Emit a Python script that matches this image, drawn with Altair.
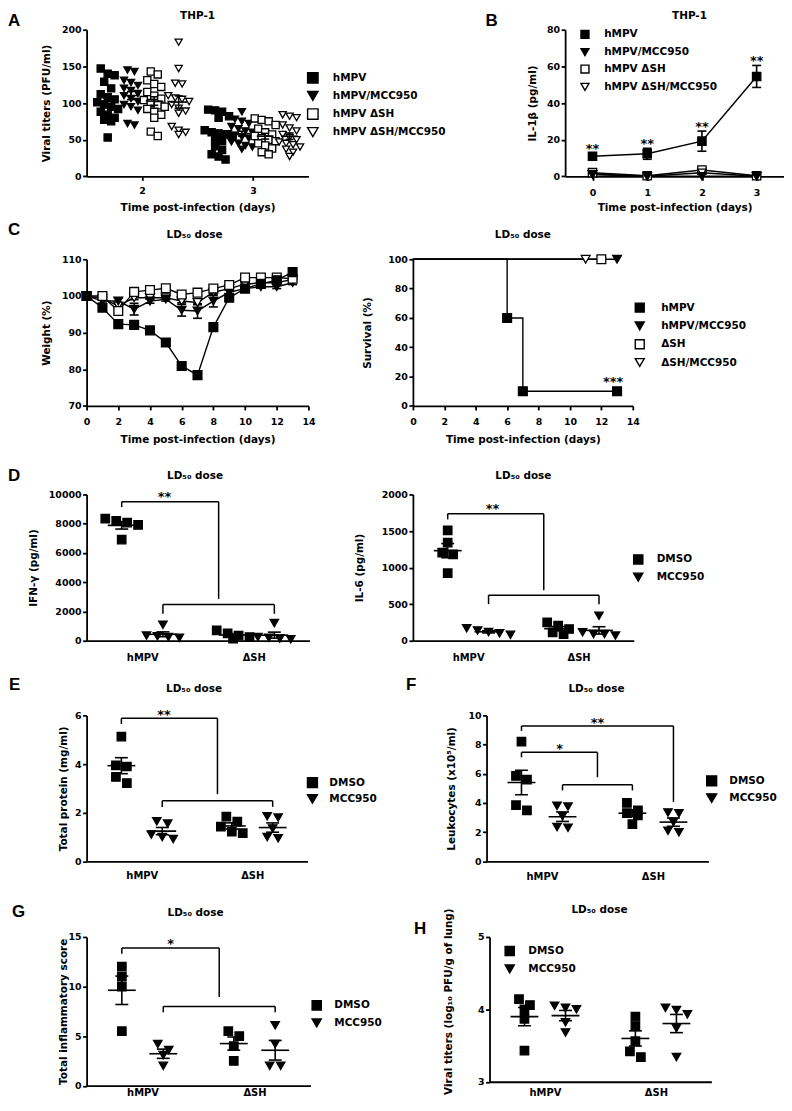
import altair as alt
import numpy as np
import pandas as pd

FONT = "DejaVu Sans"
LFONT = "Liberation Sans"

# ---------------- values ----------------
# A: THP-1 viral titers (PFU/ml), individual wells
a_series = ["hMPV", "hMPV/MCC950", "hMPV ΔSH", "hMPV ΔSH/MCC950"]
a_days = [2, 3]
a_d2_hmpv = [147, 140, 138, 129, 120, 112, 108, 105, 101, 98, 95, 92, 88, 84, 80, 77, 75, 53]
a_d2_hmpv_mcc = [145, 143, 131, 128, 124, 120, 117, 113, 110, 106, 102, 98, 95, 90, 72, 70]
a_d2_dsh = [143, 139, 131, 126, 122, 115, 110, 106, 104, 100, 97, 95, 92, 88, 84, 80, 61, 55]
a_d2_dsh_mcc = [183, 147, 127, 126, 110, 107, 105, 102, 98, 93, 89, 86, 68, 63, 60, 57]
a_d3_hmpv = [91, 90, 88, 82, 80, 63, 60, 58, 57, 55, 52, 48, 41, 36, 30, 27, 23]
a_d3_hmpv_mcc = [88, 78, 75, 72, 68, 65, 62, 60, 58, 56, 54, 52, 50, 47, 45, 42, 40, 37]
a_d3_dsh = [79, 77, 75, 70, 65, 60, 57, 55, 52, 50, 48, 45, 42, 38, 33, 30]
a_d3_dsh_mcc = [84, 82, 80, 70, 66, 62, 57, 53, 50, 47, 45, 43, 40, 37, 33, 27]

# B: IL-1β (pg/ml), mean ± SEM
b_days = [0, 1, 2, 3]
b_hmpv = [11.0, 12.3, 19.2, 54.5]
b_hmpv_sem = [1.5, 3.0, 5.5, 6.0]
b_hmpv_mcc = [1.0, 0.0, 0.0, 0.0]
b_hmpv_mcc_sem = [0.5, 0.0, 0.0, 0.0]
b_dsh = [2.0, 0.3, 3.5, 0.3]
b_dsh_sem = [0.8, 0.2, 1.2, 0.2]
b_dsh_mcc = [1.2, 0.0, 2.0, 0.0]
b_dsh_mcc_sem = [0.5, 0.0, 0.8, 0.0]
b_stars = ["**", "**", "**", "**"]

# C: body weight (%) and survival (%)
c_series = ["hMPV", "hMPV/MCC950", "ΔSH", "ΔSH/MCC950"]
c_days = list(range(14))
c_w_hmpv = [100, 96.8, 92.3, 92.1, 90.6, 87.3, 80.9, 78.4, 91.5, 99.5, 102.0, 103.3, 104.3, 106.5]
c_w_hmpv_sem = [0, 0.6, 0.5, 0.5, 0.8, 0.9, 0.6, 0.6, 0.8, 0.7, 0.5, 0.5, 0.5, 0.6]
c_w_hmpv_mcc = [100, 98.6, 98.6, 96.4, 98.6, 99.1, 96.1, 95.9, 98.6, 101.0, 102.0, 102.5, 102.5, 103.6]
c_w_hmpv_mcc_sem = [0, 0.6, 0.8, 1.6, 0.6, 0.5, 1.6, 2.0, 1.6, 0.6, 0.5, 0.4, 0.5, 0.5]
c_w_dsh = [100, 100.0, 95.9, 101.1, 101.6, 102.1, 100.4, 100.9, 102.0, 103.0, 105.0, 105.0, 105.0, 104.7]
c_w_dsh_sem = [0, 0.4, 0.5, 0.5, 0.4, 0.4, 0.6, 0.8, 0.5, 0.5, 0.4, 0.4, 0.4, 0.4]
c_w_dsh_mcc = [100, 99.3, 97.3, 99.5, 99.5, 99.5, 98.6, 98.2, 101.0, 102.0, 103.2, 103.6, 103.6, 104.5]
c_w_dsh_mcc_sem = [0, 0.4, 0.5, 0.5, 0.4, 0.4, 0.5, 0.6, 0.5, 0.4, 0.4, 0.4, 0.4, 0.4]

c_s_hmpv_days = [0, 6, 7, 13]
c_s_hmpv = [100, 60, 10, 10]
c_s_hmpv_mcc_days = [0, 13]
c_s_hmpv_mcc = [100, 100]
c_s_dsh_days = [0, 12]
c_s_dsh = [100, 100]
c_s_dsh_mcc_days = [0, 11]
c_s_dsh_mcc = [100, 100]

# D-H: individual mice, DMSO vs MCC950
dh_series = ["DMSO", "MCC950"]
dh_categories = ["hMPV", "ΔSH"]
d_ifn_hmpv_dmso = [8345, 8186, 8073, 7914, 6916]
d_ifn_hmpv_mcc = [1090, 350, 300, 250, 200]
d_ifn_dsh_dmso = [700, 500, 350, 250, 150]
d_ifn_dsh_mcc = [1200, 250, 200, 150, 100]

d_il6_hmpv_dmso = [1510, 1340, 1205, 1180, 923]
d_il6_hmpv_mcc = [170, 140, 120, 100, 80]
d_il6_dsh_dmso = [250, 205, 160, 115, 90]
d_il6_dsh_mcc = [340, 115, 90, 90, 70]

e_hmpv_dmso = [5.13, 3.95, 3.90, 3.47, 3.22]
e_hmpv_mcc = [1.65, 1.55, 1.10, 1.00, 0.92]
e_dsh_dmso = [1.84, 1.63, 1.43, 1.22, 1.16]
e_dsh_mcc = [1.85, 1.80, 1.35, 1.00, 0.95]

f_hmpv_dmso = [8.2, 5.85, 5.6, 3.85, 3.5]
f_hmpv_mcc = [3.8, 3.75, 3.1, 2.35, 2.3]
f_dsh_dmso = [4.0, 3.5, 3.3, 3.15, 2.55]
f_dsh_mcc = [3.35, 3.3, 2.7, 2.1, 2.0]

g_hmpv_dmso = [12.0, 11.0, 10.0, 5.5]
g_hmpv_mcc = [4.2, 3.6, 3.1, 2.0]
g_dsh_dmso = [5.5, 5.0, 4.0, 2.5]
g_dsh_mcc = [6.1, 4.2, 2.0, 2.0]

h_hmpv_dmso = [4.14, 4.06, 4.00, 3.87, 3.43]
h_hmpv_mcc = [4.05, 4.02, 4.00, 3.82, 3.68]
h_dsh_dmso = [3.90, 3.77, 3.56, 3.42, 3.34]
h_dsh_mcc = [4.02, 3.99, 3.93, 3.74, 3.34]

# significance brackets: (x1, y1, x2, y2) in data units, and star labels
d_ifn_brackets = [(-0.185, 9500, 0.685, 9500), (-0.185, 9500, -0.185, 9140), (0.685, 9500, 0.685, 2860),
                  (0.185, 2470, 1.185, 2470), (0.185, 2470, 0.185, 1840), (1.185, 2470, 1.185, 1840)]
d_ifn_stars = [(0.2, 10000, "**")]
d_il6_brackets = [(-0.185, 1736, 0.685, 1736), (-0.185, 1736, -0.185, 1659), (0.685, 1736, 0.685, 690),
                  (0.185, 623, 1.185, 623), (0.185, 623, 0.185, 500), (1.185, 623, 1.185, 500)]
d_il6_stars = [(0.22, 1840, "**")]
e_brackets = [(-0.185, 5.88, 0.685, 5.88), (-0.185, 5.88, -0.185, 5.65), (0.685, 5.88, 0.685, 2.76),
              (0.185, 2.49, 1.185, 2.49), (0.185, 2.49, 0.185, 2.24), (1.185, 2.49, 1.185, 2.24)]
e_stars = [(0.2, 6.12, "**")]
f_brackets = [(-0.185, 9.28, 1.185, 9.28), (-0.185, 9.28, -0.185, 8.94), (1.185, 9.28, 1.185, 4.07),
              (-0.185, 7.47, 0.5, 7.47), (-0.185, 7.47, -0.185, 7.13), (0.5, 7.47, 0.5, 5.77),
              (0.185, 5.25, 0.815, 5.25), (0.185, 5.25, 0.185, 4.86), (0.815, 5.25, 0.815, 4.86)]
f_stars = [(0.5, 9.7, "**"), (0.16, 7.9, "*")]
g_brackets = [(-0.185, 13.9, 0.685, 13.9), (-0.185, 13.9, -0.185, 13.3), (0.685, 13.9, 0.685, 8.95),
              (0.185, 8.0, 1.185, 8.0), (0.185, 8.0, 0.185, 7.4), (1.185, 8.0, 1.185, 7.4)]
g_stars = [(0.25, 14.6, "*")]

SHAPES4 = ["square", "triangle-down", "square", "triangle-down"]
FILLS4 = ["black", "black", "white", "white"]
SHAPES2 = ["square", "triangle-down"]
FILLS2 = ["black", "black"]
TIME_TITLE = "Time post-infection (days)"
LD50 = "LD₅₀ dose"


# ---------------- helpers ----------------
def spread(vals, px_y, px_x, bin_px, gap_px):
    vals = np.asarray(vals, dtype=float)
    order = np.argsort(-vals, kind="stable")
    bins = []
    for i in order:
        if bins and (vals[bins[-1][0]] - vals[i]) * px_y < bin_px:
            bins[-1].append(i)
        else:
            bins.append([i])
    off = np.zeros(len(vals))
    for b in bins:
        n = len(b)
        for k, i in enumerate(b):
            off[i] = (k - (n - 1) / 2.0) * gap_px / px_x
    return off


def text_layer(text, x, y, size=10.5, font=FONT, align="center", baseline="middle"):
    return alt.Chart(pd.DataFrame({"t": [text]})).mark_text(
        font=font, fontSize=size, fontWeight="bold", align=align, baseline=baseline, color="black"
    ).encode(x=alt.value(x), y=alt.value(y), text="t:N")


def letter_layer(letter, x, y):
    return text_layer(letter, x, y, size=17, font=LFONT, align="left", baseline="top")


def y_axis(values, title, title_x, title_y=None):
    kw = dict(values=values, tickCount=50, tickMinStep=0.001, title=title, titleX=title_x,
              titleAngle=270, titleAlign="center", titleBaseline="middle", tickSize=4,
              labelPadding=1.5, format="d", labelOverlap=False, labelFlush=False, labelBound=False)
    if title_y is not None:
        kw["titleY"] = title_y
    return alt.Axis(**kw)


def cat_axis(pad):
    return alt.Axis(values=[0, 1], tickCount=50, labelExpr="datum.value == 0 ? 'hMPV' : 'ΔSH'",
                    ticks=False, tickSize=0, labelPadding=pad, labelFontSize=10, title=None,
                    labelFlush=False, labelOverlap=False)


def time_axis(values, pad, title_y):
    return alt.Axis(values=values, tickCount=50, format="d", tickSize=4, labelPadding=pad,
                    title=TIME_TITLE, titleY=title_y, titleBaseline="middle", labelFlush=False,
                    labelOverlap=False)


def legend(x, y, sym, offset, rowpad):
    return alt.Legend(orient="none", legendX=x, legendY=y, title=None, symbolSize=sym,
                      symbolStrokeWidth=1.4, symbolOpacity=1,
                      labelFont=FONT, labelFontSize=10.5, labelFontWeight="bold", labelColor="black",
                      labelOffset=offset, rowPadding=rowpad, padding=0)


def X(field, scale):
    return alt.X(field, type="quantitative", scale=scale)


def Y(field, scale):
    return alt.Y(field, type="quantitative", scale=scale)


def marker_layer(df, xs, ys, xaxis, yaxis, series, shapes, fills, leg, msize):
    return alt.Chart(df).mark_point(filled=True, opacity=1, size=msize, strokeWidth=1.3).encode(
        x=alt.X("x:Q", scale=xs, axis=xaxis),
        y=alt.Y("y:Q", scale=ys, axis=yaxis),
        shape=alt.Shape("series:N", scale=alt.Scale(domain=series, range=shapes), legend=leg),
        fill=alt.Fill("series:N", scale=alt.Scale(domain=series, range=fills), legend=leg),
        stroke=alt.Stroke("series:N", scale=alt.Scale(domain=series, range=["black"] * len(series)),
                          legend=leg),
    )


def err_layers(df, xs, ys, cap_px, mean_px=None, mean_field="y"):
    layers = []
    if mean_px:
        layers.append(alt.Chart(df).mark_tick(orient="horizontal", size=mean_px, thickness=1.6,
                                              color="black", opacity=1).encode(
            x=X("x", xs), y=Y(mean_field, ys)))
    layers.append(alt.Chart(df).mark_rule(color="black", strokeWidth=1.6).encode(
        x=X("x", xs), y=Y("lo", ys), y2="hi:Q"))
    for f in ["lo", "hi"]:
        layers.append(alt.Chart(df).mark_tick(orient="horizontal", size=cap_px, thickness=1.6,
                                              color="black", opacity=1).encode(
            x=X("x", xs), y=Y(f, ys)))
    return layers


def bracket_layers(brackets, stars, xs, ys):
    bdf = pd.DataFrame(brackets, columns=["x1", "y1", "x2", "y2"])
    sdf = pd.DataFrame(stars, columns=["x", "y", "s"])
    rules = alt.Chart(bdf).mark_rule(color="black", strokeWidth=1.5).encode(
        x=X("x1", xs), x2="x2:Q", y=Y("y1", ys), y2="y2:Q")
    txt = alt.Chart(sdf).mark_text(font=FONT, fontSize=13, fontWeight="bold", dy=3, color="black").encode(
        x=X("x", xs), y=Y("y", ys), text="s:N")
    return [rules, txt]


def dot_panel(groups, series, shapes, fills, xdom, ydom, width, height, xaxis, yaxis, leg,
              msize, bin_px, gap_px, mean_px, cap_px, extra=()):
    px_y = height / (ydom[1] - ydom[0])
    px_x = width / (xdom[1] - xdom[0])
    pts, stats = [], []
    for xc, s, vals in groups:
        off = spread(vals, px_y, px_x, bin_px, gap_px)
        for v, o in zip(vals, off):
            pts.append({"x": xc + o, "y": v, "series": s})
        m = float(np.mean(vals))
        se = float(np.std(vals, ddof=1) / np.sqrt(len(vals)))
        stats.append({"x": xc, "y": m, "lo": m - se, "hi": m + se})
    pts = pd.DataFrame(pts)
    stats = pd.DataFrame(stats)
    xs = alt.Scale(domain=xdom, nice=False, zero=False)
    ys = alt.Scale(domain=ydom, nice=False, zero=False)
    layers = [marker_layer(pts, xs, ys, xaxis, yaxis, series, shapes, fills, leg, msize)]
    layers += err_layers(stats, xs, ys, cap_px, mean_px)
    for e in extra:
        layers += e(xs, ys) if callable(e) else [e]
    return alt.layer(*layers).properties(width=width, height=height)


def dh_groups(hd, hm, dd, dm):
    off = 0.185
    return [(0 - off, "DMSO", hd), (0 + off, "MCC950", hm), (1 - off, "DMSO", dd), (1 + off, "MCC950", dm)]


# ---------------- Panel A ----------------
a_off = [-0.31, -0.10, 0.11, 0.33]
a_groups = [
    (2 + a_off[0], a_series[0], a_d2_hmpv), (2 + a_off[1], a_series[1], a_d2_hmpv_mcc),
    (2 + a_off[2], a_series[2], a_d2_dsh), (2 + a_off[3], a_series[3], a_d2_dsh_mcc),
    (3 + a_off[0], a_series[0], a_d3_hmpv), (3 + a_off[1], a_series[1], a_d3_hmpv_mcc),
    (3 + a_off[2], a_series[2], a_d3_dsh), (3 + a_off[3], a_series[3], a_d3_dsh_mcc),
]
WA, HA = 223, 147.4
panelA = dot_panel(
    a_groups, a_series, SHAPES4, FILLS4, [1.5, 3.5], [0, 200], WA, HA,
    time_axis(a_days, 5.3, 31.3), y_axis([0, 50, 100, 150, 200], "Viral titers (PFU/ml)", -40.3),
    legend(221.4, 42.4, 110, 14, 1.2), 52, 7, 7, 17, 8,
    extra=[letter_layer("A", -79, -16.6), text_layer("THP-1", WA / 2, -13.5)])

# ---------------- Panel B ----------------
WB, HB = 220, 147.4
b_rows = []
for s, vals, sems in [(a_series[2], b_dsh, b_dsh_sem), (a_series[3], b_dsh_mcc, b_dsh_mcc_sem),
                      (a_series[1], b_hmpv_mcc, b_hmpv_mcc_sem), (a_series[0], b_hmpv, b_hmpv_sem)]:
    for d, v, e in zip(b_days, vals, sems):
        b_rows.append({"x": d, "y": v, "lo": v - e, "hi": v + e, "sem": e, "series": s})
b_df = pd.DataFrame(b_rows)
b_star_df = pd.DataFrame({"x": b_days, "y": [v + e for v, e in zip(b_hmpv, b_hmpv_sem)], "s": b_stars})
bxs = alt.Scale(domain=[-0.5, 3.5], nice=False, zero=False)
bys = alt.Scale(domain=[0, 80], nice=False, zero=False)
b_lines = alt.Chart(b_df).mark_line(color="black", strokeWidth=1.5).encode(
    x=X("x", bxs), y=Y("y", bys), detail="series:N")
b_err = err_layers(b_df[b_df["sem"] > 0], bxs, bys, 9)
b_pts = marker_layer(b_df, bxs, bys, time_axis(b_days, 7, 31.3),
                     y_axis([0, 20, 40, 60, 80], "IL-1β (pg/ml)", -33),
                     a_series, SHAPES4, FILLS4, legend(14.7, -0.5, 64, 14, 2.9), 70)
b_stars_l = alt.Chart(b_star_df).mark_text(font=FONT, fontSize=13, fontWeight="bold", dy=-4,
                                           color="black").encode(
    x=X("x", bxs), y=Y("y", bys), text="s:N")
panelB = alt.layer(b_lines, *b_err, b_pts, b_stars_l,
                   letter_layer("B", -80, -16.6), text_layer("THP-1", WB / 2 + 15, -13.5)
                   ).properties(width=WB, height=HB)

# ---------------- Panel C (weight) ----------------
WC, HC = 223, 147.4
c_rows = []
for s, vals, sems in [(c_series[3], c_w_dsh_mcc, c_w_dsh_mcc_sem), (c_series[1], c_w_hmpv_mcc, c_w_hmpv_mcc_sem),
                      (c_series[2], c_w_dsh, c_w_dsh_sem), (c_series[0], c_w_hmpv, c_w_hmpv_sem)]:
    for d, v, e in zip(c_days, vals, sems):
        c_rows.append({"x": d, "y": v, "lo": v - e, "hi": v + e, "sem": e, "series": s})
c_df = pd.DataFrame(c_rows)
cxs = alt.Scale(domain=[0, 14], nice=False, zero=False)
cys = alt.Scale(domain=[70, 110], nice=False, zero=False)
c_lines = alt.Chart(c_df).mark_line(color="black", strokeWidth=1.4).encode(
    x=X("x", cxs), y=Y("y", cys), detail="series:N")
c_err = err_layers(c_df[c_df["sem"] > 0], cxs, cys, 9)
c_pts = marker_layer(c_df, cxs, cys, time_axis(list(range(0, 15, 2)), 7, 33.3),
                     y_axis([70, 80, 90, 100, 110], "Weight (%)", -40.3),
                     c_series, SHAPES4, FILLS4, None, 78)
panelC1 = alt.layer(c_lines, *c_err, c_pts,
                    letter_layer("C", -79, -37.3), text_layer(LD50, WC / 2 - 3, -24.3)
                    ).properties(width=WC, height=HC)

# ---------------- Panel C (survival) ----------------
WC2 = 221
s_rows = []
for s, days, vals in [(c_series[0], c_s_hmpv_days, c_s_hmpv), (c_series[1], c_s_hmpv_mcc_days, c_s_hmpv_mcc),
                      (c_series[2], c_s_dsh_days, c_s_dsh), (c_series[3], c_s_dsh_mcc_days, c_s_dsh_mcc)]:
    for d, v in zip(days, vals):
        s_rows.append({"x": d, "y": v, "series": s})
s_df = pd.DataFrame(s_rows)
s_mk = s_df[s_df["x"] > 0]
sxs = alt.Scale(domain=[0, 14], nice=False, zero=False)
sys_ = alt.Scale(domain=[0, 100], nice=False, zero=False)
s_lines = alt.Chart(s_df).mark_line(color="black", strokeWidth=1.4, interpolate="step-after").encode(
    x=X("x", sxs), y=Y("y", sys_), detail="series:N")
s_pts = marker_layer(s_mk, sxs, sys_, time_axis(list(range(0, 15, 2)), 7, 33.3),
                     y_axis([0, 20, 40, 60, 80, 100], "Survival (%)", -46),
                     c_series, SHAPES4, FILLS4, legend(222.5, 43.1, 81, 16, 3.4), 78)
s_star = alt.Chart(pd.DataFrame({"x": [c_s_hmpv_days[-1]], "y": [c_s_hmpv[-1]], "s": ["***"]})).mark_text(
    font=FONT, fontSize=13, fontWeight="bold", dx=-4, dy=-9, color="black").encode(
    x=X("x", sxs), y=Y("y", sys_), text="s:N")
panelC2 = alt.layer(s_lines, s_pts, s_star, text_layer(LD50, WC2 / 2, -24.3)
                    ).properties(width=WC2, height=HC)

# ---------------- Panel D ----------------
WD1, WD2, HD = 224, 222, 147
panelD1 = dot_panel(
    dh_groups(d_ifn_hmpv_dmso, d_ifn_hmpv_mcc, d_ifn_dsh_dmso, d_ifn_dsh_mcc), dh_series, SHAPES2, FILLS2,
    [-0.5, 1.5], [0, 10000], WD1, HD, cat_axis(11.75),
    y_axis([0, 2000, 4000, 6000, 8000, 10000], "IFN-γ (pg/ml)", -53), None, 72, 8, 11, 28, 13,
    extra=[lambda xs, ys: bracket_layers(d_ifn_brackets, d_ifn_stars, xs, ys),
           letter_layer("D", -79, -26.3), text_layer(LD50, WD1 / 2 - 3, -18.3)])
panelD2 = dot_panel(
    dh_groups(d_il6_hmpv_dmso, d_il6_hmpv_mcc, d_il6_dsh_dmso, d_il6_dsh_mcc), dh_series, SHAPES2, FILLS2,
    [-0.5, 1.5], [0, 2000], WD2, HD, cat_axis(11.75),
    y_axis([0, 500, 1000, 1500, 2000], "IL-6 (pg/ml)", -53.3), legend(221, 59.8, 85, 13, 2.8),
    72, 8, 11, 28, 13,
    extra=[lambda xs, ys: bracket_layers(d_il6_brackets, d_il6_stars, xs, ys),
           text_layer(LD50, WD2 / 2, -18.3)])

# ---------------- Panel E / F ----------------
WE, WF, HE = 222, 223, 146.7
panelE = dot_panel(
    dh_groups(e_hmpv_dmso, e_hmpv_mcc, e_dsh_dmso, e_dsh_mcc), dh_series, SHAPES2, FILLS2,
    [-0.5, 1.5], [0, 6], WE, HE, cat_axis(9.25),
    y_axis([0, 2, 4, 6], "Total protein (mg/ml)", -23.3), legend(221, 61.5, 100, 11, 0.4),
    72, 8, 11, 28, 13,
    extra=[lambda xs, ys: bracket_layers(e_brackets, e_stars, xs, ys),
           letter_layer("E", -78, -39), text_layer(LD50, WE / 2 - 3, -26.7)])
panelF = dot_panel(
    dh_groups(f_hmpv_dmso, f_hmpv_mcc, f_dsh_dmso, f_dsh_mcc), dh_series, SHAPES2, FILLS2,
    [-0.5, 1.5], [0, 10], WF, HE, cat_axis(10.05),
    y_axis([0, 2, 4, 6, 8, 10], "Leukocytes (x10⁵/ml)", -35.3), legend(220.3, 59.75, 100, 11.7, 1.4),
    72, 8, 11, 28, 13,
    extra=[lambda xs, ys: bracket_layers(f_brackets, f_stars, xs, ys),
           letter_layer("F", -81, -39), text_layer(LD50, WF / 2 - 1, -26.7)])

# ---------------- Panel G / H ----------------
WG, HG, WH, HH = 225, 149.5, 223, 145.5
panelG = dot_panel(
    dh_groups(g_hmpv_dmso, g_hmpv_mcc, g_dsh_dmso, g_dsh_mcc), dh_series, SHAPES2, FILLS2,
    [-0.5, 1.5], [0, 15], WG, HG, cat_axis(1.5),
    y_axis([0, 5, 10, 15], "Total inflammatory score", -23), legend(225.8, 63.25, 85, 12.2, 2.7),
    72, 8, 11, 28, 13,
    extra=[lambda xs, ys: bracket_layers(g_brackets, g_stars, xs, ys),
           letter_layer("G", -75, -33.5), text_layer(LD50, WG / 2 - 3, -23.8)])
panelH = dot_panel(
    dh_groups(h_hmpv_dmso, h_hmpv_mcc, h_dsh_dmso, h_dsh_mcc), dh_series, SHAPES2, FILLS2,
    [-0.5, 1.5], [3, 5], WH, HH, cat_axis(6),
    y_axis([3, 4, 5], "Viral titers (log₁₀ PFU/g of lung)", -41.3, 64.5),
    legend(14.8, 8.55, 85, 13.2, 3), 72, 8, 11, 28, 13,
    extra=[letter_layer("H", -76, -15.5), text_layer(LD50, WH / 2 - 1, -27.2)])

# ---------------- layout ----------------
IND = dict(shape="independent", fill="independent", stroke="independent")


def hrow(a, b, sp):
    return alt.HConcatChart(hconcat=[a, b], spacing=sp, bounds="flush").resolve_scale(**IND)


row1 = hrow(panelA, panelB, 258)
row2 = hrow(panelC1, panelC2, 105)
row3 = hrow(panelD1, panelD2, 104)
row4 = hrow(panelE, panelF, 180)
row5 = hrow(panelG, panelH, 180)

v12 = alt.VConcatChart(vconcat=[row1, row2], spacing=6.75).resolve_scale(**IND)
v123 = alt.VConcatChart(vconcat=[v12, row3], spacing=22.15).resolve_scale(**IND)
v1234 = alt.VConcatChart(vconcat=[v123, row4], spacing=13.25).resolve_scale(**IND)
chart = alt.VConcatChart(vconcat=[v1234, row5], spacing=20.95, padding=0).resolve_scale(**IND)

chart = chart.configure_view(stroke=None).configure_axis(
    domainColor="black", tickColor="black", labelColor="black", titleColor="black",
    domainWidth=1.8, tickWidth=1.8, labelFont=FONT, labelFontSize=9.5, labelFontWeight="bold",
    titleFont=FONT, titleFontSize=10.5, titleFontWeight="bold", grid=False,
    labelOverlap=False, labelFlush=False)

chart.save("out.html", embed_options={"renderer": "svg", "actions": False})
